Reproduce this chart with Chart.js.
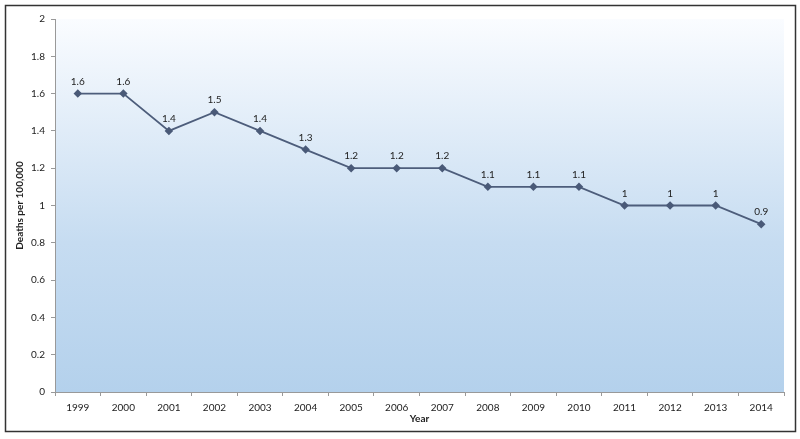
<!DOCTYPE html>
<html>
<head>
<meta charset="utf-8">
<script src="https://cdn.jsdelivr.net/npm/chart.js@4/dist/chart.umd.min.js"></script>
<style>
  html, body { margin: 0; padding: 0; background: #fff; }
  #wrap { width: 800px; height: 439px; position: relative; }
</style>
</head>
<body>
<div id="wrap"><canvas id="deathsChart"></canvas></div>
<script>
// Chart data
const years = ['1999', '2000', '2001', '2002', '2003', '2004', '2005', '2006',
               '2007', '2008', '2009', '2010', '2011', '2012', '2013', '2014'];
const deathRates = [1.6, 1.6, 1.4, 1.5, 1.4, 1.3, 1.2, 1.2, 1.2, 1.1, 1.1, 1.1, 1, 1, 1, 0.9];
const yTicks = [0, 0.2, 0.4, 0.6, 0.8, 1, 1.2, 1.4, 1.6, 1.8, 2];

const FONT = 'Lato, "Open Sans", sans-serif';

// Outer frame and gradient plot area
const framePlugin = {
    id: 'frame',
    beforeDraw(chart) {
        const { ctx, chartArea: a } = chart;
        ctx.save();
        ctx.fillStyle = '#fff';
        ctx.fillRect(0, 0, chart.width, chart.height);
        const g = ctx.createLinearGradient(0, a.top, 0, a.bottom);
        g.addColorStop(0, '#fafcff');
        g.addColorStop(0.6, '#c6dcf1');
        g.addColorStop(1, '#b4d1ec');
        ctx.fillStyle = g;
        ctx.fillRect(a.left, a.top, a.right - a.left, a.bottom - a.top);
        ctx.strokeStyle = '#333';
        ctx.lineWidth = 1.5;
        ctx.strokeRect(5.5, 5.5, 790, 426);
        ctx.restore();
    }
};

// Value labels above each point
const valueLabels = {
    id: 'valueLabels',
    afterDatasetsDraw(chart) {
        const { ctx } = chart;
        const meta = chart.getDatasetMeta(0);
        ctx.save();
        ctx.font = '10px ' + FONT;
        ctx.fillStyle = '#222';
        ctx.textAlign = 'center';
        ctx.textBaseline = 'bottom';
        meta.data.forEach((pt, i) => {
            ctx.fillText(String(deathRates[i]), pt.x, pt.y - 7);
        });
        ctx.restore();
    }
};

new Chart(document.getElementById('deathsChart'), {
    type: 'line',
    data: {
        labels: years,
        datasets: [{
            data: deathRates,
            borderColor: '#4d5d7b',
            borderWidth: 1.8,
            pointStyle: 'rectRot',
            pointRadius: 3,
            pointBackgroundColor: '#4a5a78',
            pointBorderColor: '#4a5a78',
            tension: 0
        }]
    },
    options: {
        responsive: true,
        maintainAspectRatio: false,
        animation: false,
        layout: { padding: { top: 19, right: 16, bottom: 0, left: 10 } },
        plugins: { legend: { display: false }, tooltip: { enabled: false } },
        scales: {
            x: {
                offset: true,
                grid: { offset: true, drawOnChartArea: false, color: '#999', tickLength: 4 },
                border: { color: '#999' },
                ticks: { color: '#222', font: { size: 10, family: FONT }, padding: 6, maxRotation: 0 },
                title: { display: true, text: 'Year', color: '#222', font: { size: 10, weight: 'bold', family: FONT }, padding: { top: 2, bottom: 14 } },
                afterFit(scale) { scale.height = 47; }
            },
            y: {
                min: 0,
                max: 2,
                afterBuildTicks(scale) { scale.ticks = yTicks.map(v => ({ value: v })); },
                grid: { drawOnChartArea: false, color: '#999', tickLength: 4 },
                border: { color: '#999' },
                ticks: { color: '#222', font: { size: 10, family: FONT }, padding: 6, callback: v => String(v) },
                title: { display: true, text: 'Deaths per 100,000', color: '#222', font: { size: 10, weight: 'bold', family: FONT } },
                afterFit(scale) { scale.width = 45; }
            }
        }
    },
    plugins: [framePlugin, valueLabels]
});
</script>
</body>
</html>
